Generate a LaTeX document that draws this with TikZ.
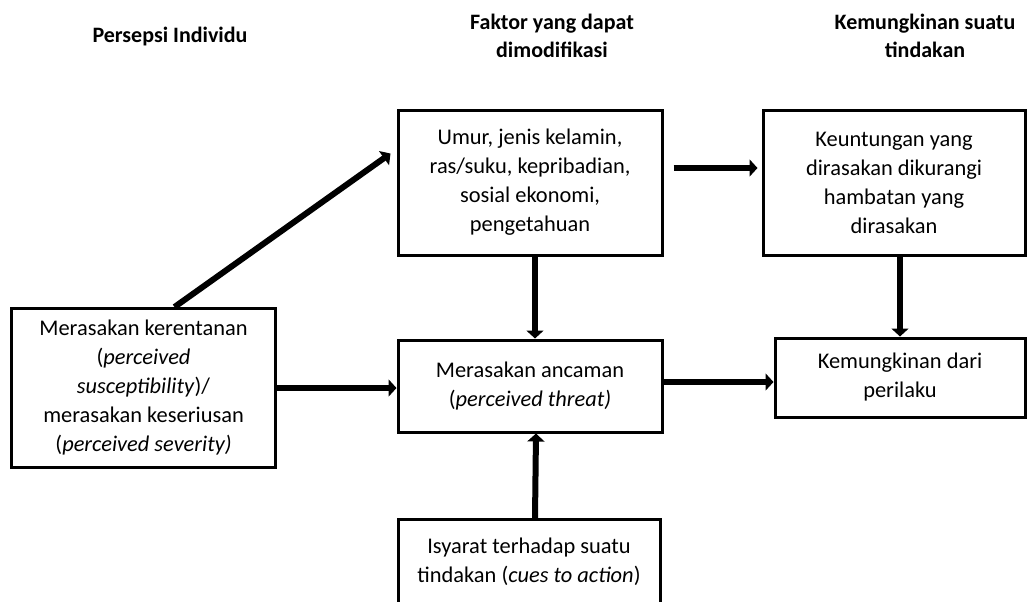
\documentclass[tikz,border=0pt]{standalone}
\usepackage{fontspec}
\setmainfont{Carlito}
\usetikzlibrary{arrows.meta,calc}

\tikzset{every picture/.style={line width=0.75pt}}
\tikzset{
  kotak/.style={draw, line width=2.25pt, align=center, inner sep=0pt, font=\fontsize{16.8}{21.75}\selectfont},
  judul/.style={align=center, inner sep=0pt, font=\bfseries\fontsize{16.5}{21}\selectfont},
  panah/.style={line width=4.5pt, -{Triangle[length=6pt,width=12.75pt]}}
}

\begin{document}
\begin{tikzpicture}[x=0.75pt,y=0.75pt,yscale=-1,xscale=1]
        \useasboundingbox (0,0) rectangle (1032,601);
        \clip (0,0) rectangle (1032,601);

        % Text Node
        \node [judul] (judulA) at (170,37) {Persepsi Individu};
        % Text Node
        \node [judul] (judulB) at (552,36) {Faktor yang dapat\\dimodifikasi};
        % Text Node
        \node [judul] (judulC) at (925,36) {Kemungkinan suatu\\tindakan};

        %Shape: Rectangle
        \node [kotak, minimum width=198pt, minimum height=119.25pt] (persepsi) at (143.5,388)
          {Merasakan kerentanan\\(\textit{perceived}\\\textit{susceptibility})/\\merasakan keseriusan\\(\textit{perceived severity)}};
        %Shape: Rectangle
        \node [kotak, minimum width=198pt, minimum height=108.75pt] (modif) at (530,182.5)
          {Umur, jenis kelamin,\\ras/suku, kepribadian,\\sosial ekonomi,\\pengetahuan};
        %Shape: Rectangle
        \node [kotak, minimum width=196.5pt, minimum height=108.75pt] (untung) at (894,182.5)
          {Keuntungan yang\\dirasakan dikurangi\\hambatan yang\\dirasakan};
        %Shape: Rectangle
        \node [kotak, minimum width=198pt, minimum height=69pt] (ancaman) at (530,386)
          {Merasakan ancaman\\(\textit{perceived threat)}};
        %Shape: Rectangle
        \node [kotak, minimum width=187.5pt, minimum height=59.25pt] (perilaku) at (900,377.5)
          {Kemungkinan dari\\perilaku};
        %Shape: Rectangle
        \node [kotak, minimum width=196.5pt, minimum height=63.75pt] (isyarat) at (529,562)
          {Isyarat terhadap suatu\\tindakan (\textit{cues to action})};

        %Straight Lines
        \draw [panah] ($(persepsi.north)+(31,0)$) -- ($(modif.west)+(-6,-29)$);
        \draw [panah] ($(modif.east)+(10,-14.5)$) -- ($(untung.west)+(-4,-14.5)$);
        \draw [panah] (persepsi.east) -- (persepsi.east -| ancaman.west);
        \draw [panah] ($(modif.south)+(5,0)$) -- ($(ancaman.north)+(5,0)$);
        \draw [panah] (untung.south -| perilaku.north) -- (perilaku.north);
        \draw [panah] ($(ancaman.east)+(0,-4)$) -- ($(ancaman.east -| perilaku.west)+(0,-4)$);
        \draw [panah] ($(isyarat.north)+(6,0)$) -- ($(ancaman.south)+(6,0)$);

\end{tikzpicture}
\end{document}
